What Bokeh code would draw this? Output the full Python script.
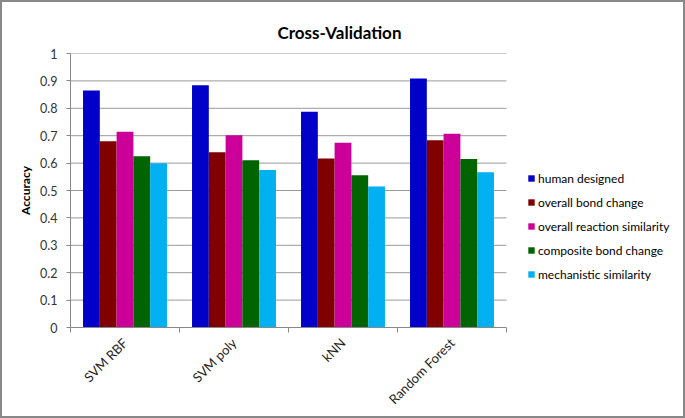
from bokeh.plotting import figure
from bokeh.models import Legend, LegendItem, FixedTicker, ColumnDataSource
from bokeh.embed import file_html
from bokeh.resources import INLINE
import math

categories = ["SVM RBF", "SVM poly", "kNN", "Random Forest"]
series_names = ["human designed", "overall bond change", "overall reaction similarity",
                "composite bond change", "mechanistic similarity"]
human_designed = [0.865, 0.884, 0.787, 0.909]
overall_bond_change = [0.680, 0.640, 0.617, 0.683]
overall_reaction_similarity = [0.714, 0.702, 0.674, 0.707]
composite_bond_change = [0.625, 0.610, 0.556, 0.615]
mechanistic_similarity = [0.599, 0.575, 0.515, 0.567]
y_ticks = [0, 0.1, 0.2, 0.3, 0.4, 0.5, 0.6, 0.7, 0.8, 0.9, 1]
y_tick_labels = ["0", "0.1", "0.2", "0.3", "0.4", "0.5", "0.6", "0.7", "0.8", "0.9", "1"]

series_values = [human_designed, overall_bond_change, overall_reaction_similarity,
                 composite_bond_change, mechanistic_similarity]
colors = ["#0000C8", "#800000", "#CC0099", "#006400", "#00B0F0"]

FONT = "Lato"
bar_w = 0.154

W, H = 685, 418
LEFT, RIGHT, TOP, BOTTOM = 68, 10, 51, 93
data_px = 436                       # pixel width of the category area
frame_px = W - LEFT - RIGHT
n_cat = len(categories)
x_end = n_cat * frame_px / data_px  # extra room on the right holds the legend

p = figure(width=W, height=H, output_backend="svg", toolbar_location=None,
           x_range=(0, x_end), y_range=(0, 1),
           min_border_left=LEFT, min_border_right=RIGHT, min_border_top=TOP,
           min_border_bottom=BOTTOM)

p.title.text = "Cross-Validation"
p.title.align = "left"
p.title.offset = 207
p.title.standoff = 21
p.title.text_font = FONT
p.title.text_font_size = "17px"
p.title.text_font_style = "bold"
p.title.text_color = "#000000"

# horizontal gridlines over the category area only
grid_y = y_ticks[1:]
p.segment(x0=[0] * len(grid_y), x1=[n_cat] * len(grid_y), y0=grid_y, y1=grid_y,
          line_color="#999999", line_width=1, level="underlay")

items = []
n = len(series_values)
for k, (name, vals, col) in enumerate(zip(series_names, series_values, colors)):
    xs = [i + 0.5 + (k - (n - 1) / 2) * bar_w for i in range(n_cat)]
    src = ColumnDataSource(dict(x=xs, top=vals))
    r = p.vbar(x="x", top="top", width=bar_w, bottom=0, source=src,
               fill_color=col, line_color=None)
    items.append(LegendItem(label=name, renderers=[r]))

legend = Legend(items=items, location=(457, 43), border_line_alpha=0,
                background_fill_alpha=0, padding=0, margin=0,
                glyph_width=8, glyph_height=8, label_height=20, spacing=4,
                label_standoff=3, label_text_font=FONT, label_text_font_size="12px",
                label_text_color="#000000")
p.add_layout(legend)

# axes
p.xaxis.bounds = (0, n_cat)
p.xaxis.ticker = FixedTicker(ticks=[i + 0.5 for i in range(n_cat)],
                             minor_ticks=list(range(n_cat + 1)))
p.xaxis.major_label_overrides = {i + 0.5: c for i, c in enumerate(categories)}
p.xaxis.major_label_orientation = math.pi / 4
p.xaxis.major_tick_line_color = None
p.xaxis.minor_tick_out = 5
p.xaxis.minor_tick_in = 0
p.xaxis.minor_tick_line_color = "#888888"
p.xaxis.axis_line_color = "#888888"
p.xaxis.major_label_text_font = FONT
p.xaxis.major_label_text_font_size = "13px"
p.xaxis.major_label_text_color = "#222222"
p.xaxis.major_label_standoff = 7

p.yaxis.ticker = FixedTicker(ticks=y_ticks)
p.yaxis.major_label_overrides = {t: l for t, l in zip(y_ticks, y_tick_labels)}
p.yaxis.major_tick_out = 4
p.yaxis.major_tick_in = 0
p.yaxis.major_tick_line_color = "#888888"
p.yaxis.minor_tick_line_color = None
p.yaxis.axis_line_color = "#888888"
p.yaxis.major_label_text_font = FONT
p.yaxis.major_label_text_font_size = "12.5px"
p.yaxis.major_label_text_color = "#333333"
p.yaxis.major_label_standoff = 9
p.yaxis.axis_label = "Accuracy"
p.yaxis.axis_label_text_font = FONT
p.yaxis.axis_label_text_font_size = "12px"
p.yaxis.axis_label_text_font_style = "bold"
p.yaxis.axis_label_text_color = "#000000"
p.yaxis.axis_label_standoff = 4

p.xgrid.grid_line_color = None
p.ygrid.grid_line_color = None
p.outline_line_color = None

p.styles = {"border": "2px solid #888888"}

open("out.html", "w").write(file_html(p, INLINE))
